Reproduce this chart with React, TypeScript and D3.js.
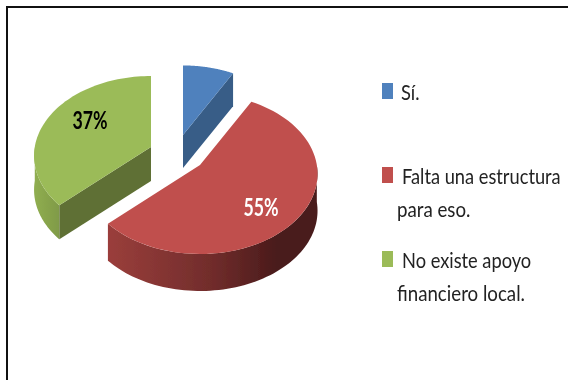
import React from "react";
import * as d3 from "d3";

const categories = ["Sí.", "Falta una estructura", "No existe apoyo"];
const secondLines = ["", "para eso.", "financiero local."];
const values = [8, 55, 37];
const shownLabels = [false, true, true];
const topColors = ["#4f81bd", "#c0504d", "#9bbb59"];
const innerWallColors = ["#375d87", "#863836", "#5f7034"];
const labelColors = ["#000", "#fff", "#000"];

const W = 568, H = 380;
const RX = 118, RY = 80, K = 0.11;
const apex = [[183, 135], [200, 165], [151, 147]];
const sliceScale = [0.965, 0.99, 0.985];
const depth = [33, 37, 34];
const labelPos = [[0, 0], [261, 216], [90, 129]];
const legendY = [100, 184, 268];
const legendTextX = [401, 402, 402];
const FONT = "Lato, 'Open Sans', sans-serif";

const pieAngles = d3.pie<number>().sort(null).startAngle(0).endAngle(2 * Math.PI)(values);

function project(i: number, t: number): [number, number] {
  const f = sliceScale[i] / (1 + K * Math.cos(t));
  return [apex[i][0] + RX * f * Math.sin(t), apex[i][1] - RY * f * Math.cos(t)];
}
function samples(a: number, b: number): number[] {
  const n = 72;
  return d3.range(n + 1).map((j) => a + ((b - a) * j) / n);
}
const line = d3.line<[number, number]>();

function topPath(i: number) {
  const p = pieAngles[i];
  const pts = samples(p.startAngle, p.endAngle).map((t) => project(i, t));
  return line([apex[i] as [number, number], ...pts]) + "Z";
}
function outerWall(i: number, a: number, b: number) {
  const top = samples(a, b).map((t) => project(i, t));
  const bot = [...top].reverse().map(([x, y]) => [x, y + depth[i]] as [number, number]);
  return line([...top, ...bot]) + "Z";
}
function innerWall(i: number, t: number) {
  const [x, y] = project(i, t);
  const [ax, ay] = apex[i];
  const d = depth[i];
  return line([[ax, ay], [x, y], [x, y + d], [ax, ay + d]]) + "Z";
}

function Squeezed(props: { x: number; y: number; sx: number; size: number; fill: string; weight?: number; anchor?: string; children: React.ReactNode }) {
  return (
    <text transform={`translate(${props.x},${props.y}) scale(${props.sx},1)`} fontFamily={FONT}
      fontSize={props.size} fontWeight={props.weight ?? 400} fill={props.fill} textAnchor={props.anchor ?? "start"}>
      {props.children}
    </text>
  );
}

export default function App() {
  const blue = pieAngles[0], red = pieAngles[1], green = pieAngles[2];
  return (
    <svg width={W} height={H} style={{ position: "absolute", left: 0, top: 0, background: "#fff" }}>
      <defs>
        <linearGradient id="redWall" gradientUnits="userSpaceOnUse" x1="109" x2="318" y1="0" y2="0">
          <stop offset="0" stopColor="#9a3e3b" />
          <stop offset="0.5" stopColor="#702c2b" />
          <stop offset="0.8" stopColor="#4a1b1b" />
          <stop offset="1" stopColor="#4a1b1b" />
        </linearGradient>
        <linearGradient id="greenWall" gradientUnits="userSpaceOnUse" x1="34" x2="60" y1="0" y2="0">
          <stop offset="0" stopColor="#90ae50" />
          <stop offset="1" stopColor="#7f9a47" />
        </linearGradient>
        <filter id="soft" x="-5%" y="-5%" width="110%" height="110%">
          <feGaussianBlur stdDeviation="0.45" />
        </filter>
      </defs>

      <path d={`M7,${H}V7H${W}`} fill="none" stroke="#111" strokeWidth={2} />

      <g filter="url(#soft)">
        <path d={innerWall(0, blue.endAngle)} fill={innerWallColors[0]} />
        <path d={topPath(0)} fill={topColors[0]} />

        <path d={outerWall(2, green.startAngle, (3 * Math.PI) / 2)} fill="url(#greenWall)" />
        <path d={innerWall(2, green.startAngle)} fill={innerWallColors[2]} />
        <path d={topPath(2)} fill={topColors[2]} />

        <path d={outerWall(1, Math.PI / 2, red.endAngle)} fill="url(#redWall)" />
        <path d={topPath(1)} fill={topColors[1]} />

        {values.map((v, i) =>
          shownLabels[i] ? (
            <Squeezed key={i} x={labelPos[i][0]} y={labelPos[i][1]} sx={0.74} size={24} weight={700}
              fill={labelColors[i]} anchor="middle">
              {v}%
            </Squeezed>
          ) : null
        )}

        {categories.map((c, i) => (
          <g key={c}>
            <rect x={382} y={legendY[i] - 17} width={11} height={16} fill={topColors[i]} />
            <Squeezed x={legendTextX[i]} y={legendY[i]} sx={0.83} size={22} fill="#222">{c}</Squeezed>
            {secondLines[i] ? (
              <Squeezed x={397} y={legendY[i] + 33} sx={0.85} size={22} fill="#222">{secondLines[i]}</Squeezed>
            ) : null}
          </g>
        ))}
      </g>
    </svg>
  );
}
